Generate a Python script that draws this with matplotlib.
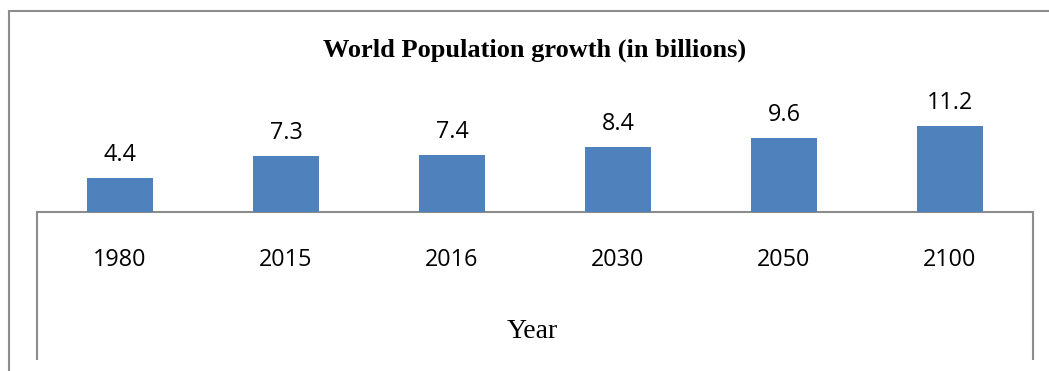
import matplotlib.pyplot as plt
from matplotlib.lines import Line2D

years = ["1980", "2015", "2016", "2030", "2050", "2100"]
population = [4.4, 7.3, 7.4, 8.4, 9.6, 11.2]

W, H = 1049, 371
fig = plt.figure(figsize=(W / 100, H / 100), dpi=100)

# axes box in pixels: x 37..1033, y 10..359 from top, baseline at y=212
x0, x1 = 37, 1033
ytop, ybot, ybase = 10, 359, 212
ax = fig.add_axes([x0 / W, (H - ybot) / H, (x1 - x0) / W, (ybot - ytop) / H])

px_per_unit = 7.72
ax.set_ylim(-(ybot - ybase) / px_per_unit, (ybase - ytop) / px_per_unit)
ax.set_xlim(-0.5, len(years) - 0.5)

pos = list(range(len(years)))
ax.bar(pos, population, width=0.40, color="#4F81BD", zorder=2)

grey = "#8C8C8C"
for side in ["top", "bottom"]:
    ax.spines[side].set_visible(False)
for side in ["left", "right"]:
    ax.spines[side].set_color(grey)
    ax.spines[side].set_linewidth(1.5)
    ax.spines[side].set_bounds(ax.get_ylim()[0], 0)
ax.axhline(0, color=grey, lw=1.5, zorder=1)
ax.set_xticks([])
ax.set_yticks([])
ax.patch.set_alpha(0)

label_font = "Open Sans"
for i, v in enumerate(population):
    ax.annotate(f"{v}", xy=(i, v), xytext=(0, 12.2), textcoords="offset points",
                ha="center", va="baseline", fontsize=16.8, family=label_font)
    ax.annotate(years[i], xy=(i, 0), xytext=(0, -38.9), textcoords="offset points",
                ha="center", va="baseline", fontsize=16.8, family=label_font)

fig.text(535 / W, 1 - 57 / H, "World Population growth (in billions)",
         ha="center", va="baseline", fontsize=19, fontweight="bold",
         family="Liberation Serif")
fig.text(532.5 / W, 1 - 338 / H, "Year", ha="center", va="baseline",
         fontsize=20, family="Liberation Serif")

# outer chart border (left and top edges)
fig.add_artist(Line2D([8.5 / W, 8.5 / W], [0, 1 - 10.5 / H], color=grey, lw=1.5))
fig.add_artist(Line2D([8.5 / W, 1], [1 - 10.5 / H, 1 - 10.5 / H], color=grey, lw=1.5))

fig.savefig("out.png", dpi=100)
